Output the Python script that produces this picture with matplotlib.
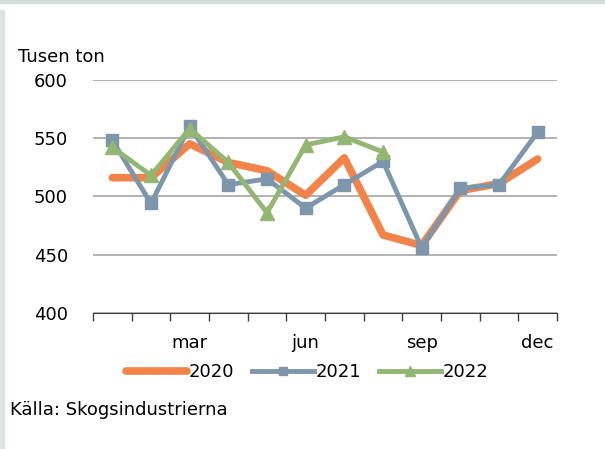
import matplotlib
matplotlib.use("Agg")
from matplotlib import pyplot as plt
from matplotlib.patches import Rectangle
import numpy as np

months = ["jan", "feb", "mar", "apr", "maj", "jun",
          "jul", "aug", "sep", "okt", "nov", "dec"]
shown_labels = ["", "", "mar", "", "", "jun", "", "", "sep", "", "", "dec"]

y2020 = [516, 516, 545, 529, 522, 501, 533, 467, 458, 505, 511, 532]
y2021 = [548, 494, 560, 510, 515, 490, 510, 530, 456, 507, 510, 555]
y2022 = [542, 518, 558, 529, 486, 544, 551, 538]

c2020 = "#F2844A"
c2021 = "#7E96AB"
c2022 = "#93B673"

plt.rcParams["font.family"] = ["DejaVu Sans"]

W, H = 605, 449
fig = plt.figure(figsize=(W / 100, H / 100), dpi=100)

# light frame on top/left edge, like the screenshot
fig.patches.append(Rectangle((0, 1 - 3 / H), 1, 3 / H, transform=fig.transFigure,
                             color="#D3DDD9", zorder=0))
fig.patches.append(Rectangle((0, 0), 4 / W, 1 - 10 / H, transform=fig.transFigure,
                             color="#DCE4E1", zorder=0))

left, right = 93 / W, 557 / W
top, bottom = 1 - 79.5 / H, 1 - 313.3 / H
ax = fig.add_axes([left, bottom, right - left, top - bottom])

x = np.arange(len(months))
ax.plot(x, y2020, color=c2020, lw=5.5, solid_capstyle="round", label="2020", zorder=3)
ax.plot(x, y2021, color=c2021, lw=3.5, marker="s", ms=9, label="2021", zorder=4)
ax.plot(x[:len(y2022)], y2022, color=c2022, lw=3.5, marker="^", ms=10,
        label="2022", zorder=5)

ax.set_xlim(-0.5, 11.5)
ax.set_ylim(400, 600)
ax.set_yticks([400, 450, 500, 550, 600])
ax.grid(axis="y", color="#A6A6A6", lw=1.2)
ax.set_axisbelow(True)

ax.set_xticks(x)
ax.set_xticklabels(shown_labels, fontsize=13)
ax.tick_params(axis="x", length=0, pad=15)
ax.set_xticks(np.arange(-0.5, 12, 1), minor=True)
ax.tick_params(axis="x", which="minor", length=6, width=1, color="#404040", direction="out")
ax.tick_params(axis="y", length=0, labelsize=13, pad=18)

for s in ["top", "right", "left"]:
    ax.spines[s].set_visible(False)
ax.spines["bottom"].set_color("#404040")

fig.text(18 / W, 1 - 57 / H, "Tusen ton", fontsize=13, va="center", ha="left")
fig.text(10 / W, 1 - 410 / H, "Källa: Skogsindustrierna", fontsize=13, va="center", ha="left")

ax.legend(loc="center", bbox_to_anchor=(307 / W, 1 - 372 / H), bbox_transform=fig.transFigure,
          ncol=3, frameon=False, fontsize=13, handlelength=3.4, handletextpad=0.1,
          columnspacing=1.0, markerscale=0.7)

fig.savefig("out.png", dpi=100)
